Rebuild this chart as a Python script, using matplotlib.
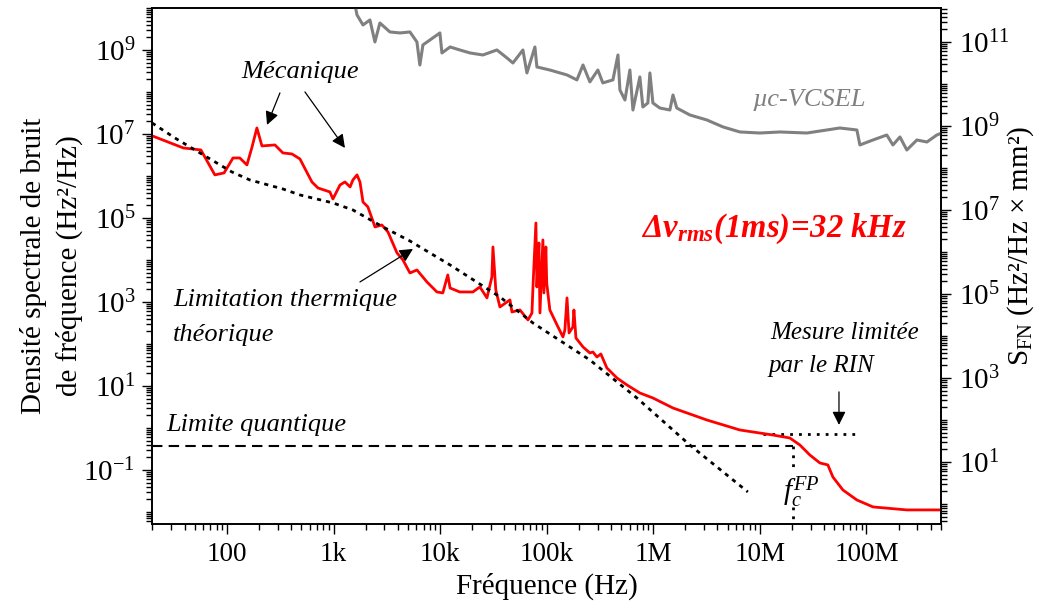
import math
import matplotlib
matplotlib.use('Agg')
import matplotlib.pyplot as plt
from matplotlib.ticker import FixedLocator, FixedFormatter, LogLocator, NullFormatter

plt.rcParams['font.family'] = ['Liberation Serif', 'DejaVu Serif']
plt.rcParams['mathtext.fontset'] = 'custom'
plt.rcParams['mathtext.rm'] = 'Liberation Serif'
plt.rcParams['mathtext.it'] = 'Liberation Serif:italic'
plt.rcParams['mathtext.bf'] = 'Liberation Serif:bold:italic'

# frequency noise of the laser (left axis)
red_f = [20, 39, 57, 77, 94, 114, 132, 154, 172, 191, 213,
         282, 335, 407, 484, 627, 714, 925, 987,
         1150, 1280, 1430, 1520, 1660, 1770, 1890, 2100, 2450, 2840, 3240, 3940, 4480, 5210, 6060, 7520, 9330,
         10.6e3, 11.8e3, 12.4e3, 15.3e3, 20.3e3, 23.6e3, 27.5e3, 30.6e3, 31.3e3, 33.3e3, 36.4e3,
         45.2e3, 47.2e3, 56.1e3, 66.7e3, 72.7e3, 74.3e3, 79.2e3, 80.9e3, 84.5e3, 86.4e3, 92.1e3, 94.1e3, 98.2e3, 100e3, 107e3,
         125e3, 142e3, 148e3, 155e3, 162e3, 176e3, 180e3, 188e3, 219e3, 254e3, 271e3, 296e3, 322e3, 367e3, 456e3, 565e3, 748e3, 991e3,
         1.53e6, 3.18e6, 6.49e6, 13.2e6, 19.1e6, 23.7e6, 29.4e6, 36.5e6, 43.4e6, 48.4e6, 60.1e6, 81.3e6, 115e6, 239e6, 500e6]
red_S = [8.95e6, 4.64e6, 4.16e6, 1.06e6, 1.18e6, 2.68e6, 2.68e6, 1.83e6, 4.9e6, 1.39e7, 5.18e6,
         5.47e6, 3.53e6, 3.34e6, 2.54e6, 7.2e5, 5.18e5, 4.16e5, 2.83e5,
         6.1e5, 7.2e5, 5.47e5, 8.03e5, 1.06e6, 7.2e5, 2.4e5, 1.83e5, 6.1e4, 6.8e4, 4.64e4, 1.47e4, 1e4, 4.9e3, 5.78e3, 3.0e3, 1.73e3,
         1.64e3, 4.4e3, 2.15e3, 1.73e3, 1.73e3, 2.28e3, 1.25e3, 3.94e3, 2.04e4, 1.93e3, 760,
         1.12e3, 578, 645, 373, 547, 2.28e3, 7.6e4, 2.28e3, 2.54e4, 547, 3.0e4, 1.64e3, 2.04e4, 2.83e3, 645,
         283, 147, 215, 1.25e3, 183, 254, 645, 139, 84.9, 61.1, 64.5, 49, 57.8, 26.8, 15.5, 10.6, 6.81, 5.18,
         2.99, 1.55, 0.896, 0.681, 0.578, 0.394, 0.228, 0.147, 0.132, 0.068, 0.0334, 0.0193, 0.0132, 0.0112, 0.0112]

# theoretical thermal limit (left axis)
th_f = [19.8, 32.5, 55.8, 111, 164, 335, 484, 987, 1520, 2910, 5210, 12.4e3, 36.4e3, 74.3e3, 254e3, 702e3, 2.2e6, 7.71e6]
th_S = [1.83e7, 8.03e6, 3.53e6, 1.25e6, 8.03e5, 4.9e5, 3.53e5, 2.28e5, 1.55e5, 6.1e4, 2.83e4, 7.6e3, 1.32e3, 316, 41.6, 5.18, 0.394, 0.030]

# uc-VCSEL (right axis)
gray_f = [1590, 1660, 1890, 2195, 2445, 2722, 3381, 4198, 5208, 6058,
          6457, 6897, 9950, 10.4e3, 12.4e3, 15.3e3, 19.1e3, 25.2e3, 34.1e3, 42.4e3,
          48.2e3, 59.8e3, 65.2e3, 77.5e3, 80.9e3, 107e3, 155e3, 192e3, 219e3, 254e3,
          302e3, 336e3, 418e3, 466e3, 486e3, 542e3, 603e3, 644e3, 748e3, 798e3,
          889e3, 929e3, 991e3, 1.15e6, 1.43e6, 1.53e6, 1.66e6, 2.2e6, 3.18e6, 4.5e6,
          6.49e6, 10e6, 15.4e6, 27.6e6, 56.2e6, 81.3e6, 86.7e6, 115e6, 155e6, 177e6,
          206e6, 239e6, 297e6, 369e6, 457e6, 509e6]
gray_S = [7.6e11, 4.4e11, 2.54e11, 3.34e11, 1e11, 2.83e11, 1.73e11, 1.64e11, 1.73e11, 1e11,
          2.83e10, 8.5e10, 1.64e11, 5.47e10, 7.6e10, 6.45e10, 5.47e10, 4.9e10, 6.45e10, 4.16e10,
          3.16e10, 6.45e10, 1.83e10, 7.6e10, 2.54e10, 2.15e10, 1.64e10, 1.25e10, 2.83e10, 1.12e10,
          2.15e10, 1.06e10, 1.25e10, 4.9e10, 7.2e9, 4.16e9, 2.15e10, 2.4e9, 1.47e10, 2.83e9,
          3.53e9, 1.83e10, 3.53e9, 2.68e9, 2.4e9, 5.47e9, 2.68e9, 1.83e9, 1.39e9, 9.5e8,
          7.2e8, 6.8e8, 7.2e8, 6.8e8, 8.95e8, 8.03e8, 3.53e8, 4.64e8, 6.1e8, 3.53e8,
          5.47e8, 2.68e8, 4.64e8, 4.16e8, 6.1e8, 6.8e8]

quantum_limit = 0.37
f_cut = 20.4e6
rin_level = 0.72
rin_f = [10.7e6, 86.7e6]

x_ticks = [1e2, 1e3, 1e4, 1e5, 1e6, 1e7, 1e8]
x_labels = ['100', '1k', '10k', '100k', '1M', '10M', '100M']
yl_ticks = [1e-1, 1e1, 1e3, 1e5, 1e7, 1e9]
yr_ticks = [1e1, 1e3, 1e5, 1e7, 1e9, 1e11]

xlim = (19.8, 5.0e8)
ylim_left = (5.18e-3, 1e10)
right_offset = 64.6
ylim_right = (ylim_left[0] * right_offset, ylim_left[1] * right_offset)

fig = plt.figure(figsize=(10.43, 6.10), dpi=100)
ax = fig.add_axes([0.1457, 0.141, 0.7565, 0.846])
ax2 = ax.twinx()

ax.plot(red_f, red_S, color='#ff0000', lw=2, zorder=3)
ax.plot(th_f, th_S, color='black', lw=2, ls=(0, (1.5, 1.8)), zorder=4)
ax2.plot(gray_f, gray_S, color='#808080', lw=2.2)

ax.plot([xlim[0], f_cut], [quantum_limit, quantum_limit], color='black', lw=1.5, ls=(0, (5, 3)))
ax.plot(rin_f, [rin_level, rin_level], color='black', lw=2, ls=(0, (1, 2.2)))
ax.plot([f_cut, f_cut], [quantum_limit, 0.118], color='black', lw=2, ls=(0, (1, 2.2)))
ax.plot([f_cut, f_cut], [0.0132, ylim_left[0]], color='black', lw=2, ls=(0, (1, 2.2)))

for a in (ax, ax2):
    a.set_xscale('log')
    a.set_yscale('log')
    a.set_xlim(*xlim)
ax.set_ylim(*ylim_left)
ax2.set_ylim(*ylim_right)

ax.xaxis.set_major_locator(FixedLocator(x_ticks))
ax.xaxis.set_major_formatter(FixedFormatter(x_labels))
ax.xaxis.set_minor_locator(LogLocator(base=10, subs=range(2, 10), numticks=30))
ax.xaxis.set_minor_formatter(NullFormatter())

ax.yaxis.set_major_locator(FixedLocator(yl_ticks))
ax.yaxis.set_major_formatter(FixedFormatter([r'$\mathrm{10^{%d}}$' % round(math.log10(t)) for t in yl_ticks]))
ax.yaxis.set_minor_locator(LogLocator(base=10, subs=range(1, 10), numticks=40))
ax.yaxis.set_minor_formatter(NullFormatter())
ax2.yaxis.set_major_locator(FixedLocator(yr_ticks))
ax2.yaxis.set_major_formatter(FixedFormatter([r'$\mathrm{10^{%d}}$' % round(math.log10(t)) for t in yr_ticks]))
ax2.yaxis.set_minor_locator(LogLocator(base=10, subs=range(1, 10), numticks=40))
ax2.yaxis.set_minor_formatter(NullFormatter())

ax.tick_params(axis='x', which='major', direction='out', length=7, width=1, labelsize=19.5, pad=6, top=False)
ax.tick_params(axis='x', which='minor', direction='out', length=4.5, width=1, top=False)
ax.tick_params(axis='y', which='major', direction='out', length=7, width=1, labelsize=21, pad=5)
ax.tick_params(axis='y', which='minor', direction='out', length=4, width=1)
ax2.tick_params(axis='y', which='major', direction='out', length=7, width=1, labelsize=21, pad=6)
ax2.tick_params(axis='y', which='minor', direction='out', length=4, width=1)
for a in (ax, ax2):
    for s in a.spines.values():
        s.set_linewidth(1.2)

ax.set_xlabel('Fréquence (Hz)', fontsize=21, labelpad=4)
ax.set_ylabel('Densité spectrale de bruit\nde fréquence (Hz²/Hz)', fontsize=21, linespacing=1.45)
ax.yaxis.set_label_coords(-0.087, 0.5)
ax2.set_ylabel(r'S$_{\mathrm{FN}}$ (Hz²/Hz × mm²)', fontsize=21)
ax2.yaxis.set_label_coords(1.082, 0.54)

kw = dict(transform=ax.transAxes, fontsize=19, style='italic', va='center')
ax.text(0.1135, 0.876, 'Mécanique', ha='left', **kw)
ax.text(0.0266, 0.434, 'Limitation thermique', ha='left', **kw)
ax.text(0.0266, 0.366, 'théorique', ha='left', **kw)
ax.text(0.0177, 0.192, 'Limite quantique', ha='left', **kw)
ax.text(0.7617, 0.822, 'µc-VCSEL', ha='left', color='#808080', **kw)
ax.text(0.7833, 0.370, 'Mesure limitée', ha='left', transform=ax.transAxes, fontsize=18, style='italic', va='center')
ax.text(0.7810, 0.306, 'par le RIN', ha='left', transform=ax.transAxes, fontsize=18, style='italic', va='center')
ax.text(0.6198, 0.572, r'$\mathbf{\Delta\nu_{rms}(1ms)\!=\!32\ kHz}$', ha='left', va='center',
        transform=ax.transAxes, fontsize=23.5, color='#ff0000')
ax.text(0.823, 0.062, r'$f_{c}^{FP}$', ha='center', va='center', transform=ax.transAxes, fontsize=21)

arrow = dict(arrowstyle='-|>', color='black', lw=0.9, mutation_scale=20, shrinkA=0, shrinkB=0)
ax.annotate('', xy=(0.1458, 0.7733), xytext=(0.1622, 0.8353), xycoords='axes fraction', arrowprops=arrow)
ax.annotate('', xy=(0.2446, 0.7287), xytext=(0.1939, 0.8372), xycoords='axes fraction', arrowprops=arrow)
ax.annotate('', xy=(0.3308, 0.533), xytext=(0.2636, 0.469), xycoords='axes fraction', arrowprops=arrow)
ax.annotate('', xy=(0.8707, 0.192), xytext=(0.8707, 0.256), xycoords='axes fraction', arrowprops=arrow)

fig.savefig('out.png', dpi=100)
